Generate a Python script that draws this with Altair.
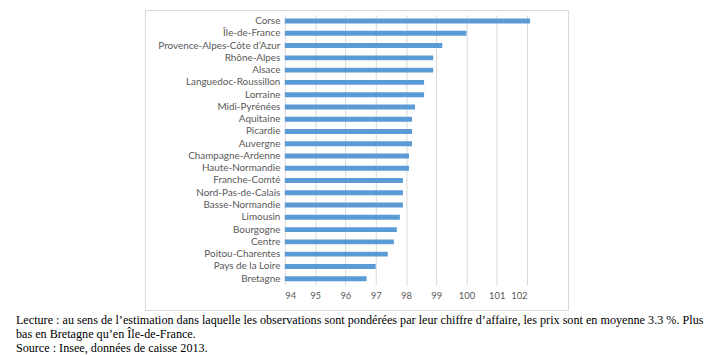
import altair as alt
import pandas as pd

regions = ["Corse", "Île-de-France", "Provence-Alpes-Côte d’Azur", "Rhône-Alpes", "Alsace",
           "Languedoc-Roussillon", "Lorraine", "Midi-Pyrénées", "Aquitaine", "Picardie",
           "Auvergne", "Champagne-Ardenne", "Haute-Normandie", "Franche-Comté",
           "Nord-Pas-de-Calais", "Basse-Normandie", "Limousin", "Bourgogne", "Centre",
           "Poitou-Charentes", "Pays de la Loire", "Bretagne"]
values = [102.1, 100.0, 99.2, 98.9, 98.9, 98.6, 98.6, 98.3, 98.2, 98.2, 98.2,
          98.1, 98.1, 97.9, 97.9, 97.9, 97.8, 97.7, 97.6, 97.4, 97.0, 96.7]
x_ticks = [94, 95, 96, 97, 98, 99, 100, 101, 102]
note_lines = [
    "Lecture : au sens de l’estimation dans laquelle les observations sont pondérées par leur chiffre d’affaire, les prix sont en moyenne 3.3 %. Plus",
    "bas en Bretagne qu’en Île-de-France.",
    "Source : Insee, données de caisse 2013.",
]

df = pd.DataFrame({"region": regions, "value": values})

frame = alt.Chart(pd.DataFrame({"a": [0]})).mark_rect(
    filled=False, stroke="#d9d9d9", strokeWidth=1
).encode(
    x=alt.value(-141), x2=alt.value(287), y=alt.value(-4.5), y2=alt.value(299)
)

bars = alt.Chart(df).mark_bar(color="#5b9bd5", size=5, clip=False).encode(
    x=alt.X("value:Q", scale=alt.Scale(domain=[94, 102], zero=False, clamp=False, nice=False),
            axis=alt.Axis(values=x_ticks, title=None, grid=True, gridColor="#d9d9d9",
                          domain=False, ticks=False, labelColor="#595959",
                          labelFontSize=9.5, labelFont="Lato", labelPadding=6)),
    x2=alt.datum(94),
    y=alt.Y("region:N", sort=None,
            scale=alt.Scale(paddingInner=0, paddingOuter=0),
            axis=alt.Axis(title=None, domain=False, ticks=False, labelColor="#595959",
                          labelFontSize=10, labelFont="Lato", labelPadding=5)),
)

notes = [
    alt.Chart(pd.DataFrame({"t": [line]})).mark_text(
        align="left", baseline="middle", font="Liberation Serif", fontSize=12.3, color="black"
    ).encode(text="t:N", x=alt.value(-272), y=alt.value(309 + 14 * i))
    for i, line in enumerate(note_lines)
]

chart = alt.layer(frame, bars, *notes).properties(
    width=245, height=273,
    autosize=alt.AutoSizeParams(type="none"),
    padding={"left": 280, "top": 5, "right": 179, "bottom": 69},
).configure_view(stroke=None)

chart.save("out.html", embed_options={"renderer": "svg", "actions": False})
